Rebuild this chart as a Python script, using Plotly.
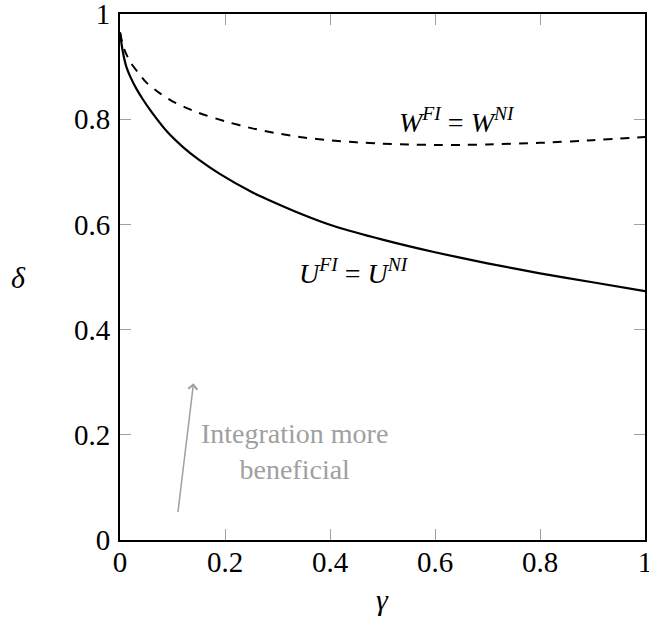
import plotly.graph_objects as go

# data
gamma_u = [0, 0.005, 0.012, 0.02, 0.03, 0.044, 0.06, 0.09, 0.12, 0.15, 0.19, 0.25, 0.28, 0.35, 0.41,
           0.5, 0.6, 0.7, 0.8, 0.9, 1.0]
delta_u = [0.965, 0.93, 0.90, 0.88, 0.86, 0.837, 0.814, 0.776, 0.747, 0.723, 0.696, 0.662, 0.648,
           0.618, 0.596, 0.571, 0.547, 0.526, 0.507, 0.490, 0.473]

gamma_w = [0, 0.005, 0.01, 0.02, 0.035, 0.05, 0.075, 0.1, 0.125, 0.15, 0.2, 0.25, 0.3, 0.35, 0.4,
           0.45, 0.5, 0.55, 0.6, 0.65, 0.7, 0.8, 0.9, 1.0]
delta_w = [0.965, 0.943, 0.928, 0.908, 0.888, 0.870, 0.850, 0.834, 0.822, 0.812, 0.796, 0.783, 0.773,
           0.765, 0.760, 0.756, 0.7535, 0.752, 0.751, 0.751, 0.752, 0.755, 0.760, 0.766]

tick_vals = [0, 0.2, 0.4, 0.6, 0.8, 1]
tick_text = ["0", "0.2", "0.4", "0.6", "0.8", "1"]

FONT = "Liberation Serif"
GRAY = "#a0a0a0"

fig = go.Figure()
fig.add_trace(go.Scatter(x=gamma_w, y=delta_w, mode="lines",
                         line=dict(color="black", width=2, dash="9px,8px", shape="spline", smoothing=0.6),
                         showlegend=False, hoverinfo="skip"))
fig.add_trace(go.Scatter(x=gamma_u, y=delta_u, mode="lines",
                         line=dict(color="black", width=2.2, shape="spline", smoothing=0.6),
                         showlegend=False, hoverinfo="skip"))

axis_common = dict(range=[0, 1], tickvals=tick_vals, ticktext=tick_text, ticks="inside",
                   ticklen=11, tickwidth=1, tickcolor=GRAY, showline=True, linecolor="black",
                   linewidth=2, mirror="ticks", showgrid=False, zeroline=False,
                   automargin=False, ticklabeloverflow="allow",
                   tickfont=dict(family=FONT, size=29, color="black"))

fig.update_layout(
    width=649, height=622,
    margin=dict(l=120, r=4, t=14, b=82, autoexpand=False),
    font=dict(family=FONT, size=28, color="black"),
    paper_bgcolor="white", plot_bgcolor="white",
    xaxis=dict(**axis_common, ticklabelstandoff=-5),
    yaxis=dict(**axis_common, ticklabelstandoff=2),
    annotations=[
        dict(text="<i>W</i><sup><i>FI</i></sup> = <i>W</i><sup><i>NI</i></sup>", x=0.642, y=0.797,
             xref="x", yref="y", showarrow=False, font=dict(family=FONT, size=28, color="black")),
        dict(text="<i>U</i><sup><i>FI</i></sup> = <i>U</i><sup><i>NI</i></sup>", x=0.445, y=0.51,
             xref="x", yref="y", showarrow=False, font=dict(family=FONT, size=28, color="black")),
        dict(text="Integration more<br>beneficial", x=0.333, y=0.168, xref="x", yref="y",
             showarrow=False, font=dict(family=FONT, size=28, color=GRAY)),
        dict(text="", x=0.14, y=0.298, ax=0.11, ay=0.05, xref="x", yref="y", axref="x", ayref="y",
             showarrow=True, arrowhead=4, arrowsize=1.2, arrowwidth=1.5, arrowcolor=GRAY),
        dict(text="<i>γ</i>", x=0.5, y=-0.149, xref="paper", yref="paper", showarrow=False,
             font=dict(family=FONT, size=30, color="black")),
        dict(text="<i>δ</i>", x=-0.211, y=0.5, xref="paper", yref="paper", showarrow=False,
             font=dict(family=FONT, size=30, color="black")),
    ],
)

fig.write_html("out.html", config={"displayModeBar": False},
               post_script="document.body.style.margin='0px';")
